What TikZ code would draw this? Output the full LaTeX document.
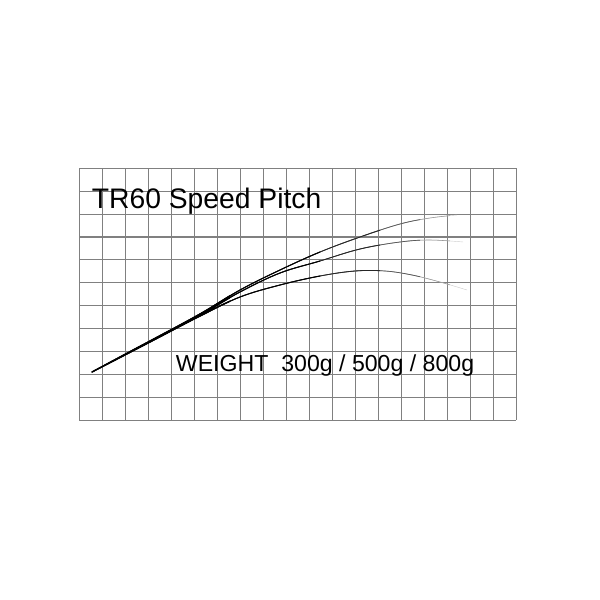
\documentclass[tikz,border=0pt]{standalone}
\usepackage{fontspec}
\setmainfont{Liberation Sans}

% the three rod curves (300g, 500g, 800g)
\newcommand{\rodcurves}{%
  plot[smooth, tension=0.6] coordinates {(92,372) (150,341) (200,314) (240,290) (280,270) (320,252) (360,237) (400,224) (430,218) (457,215)}
  plot[smooth, tension=0.6] coordinates {(92,372) (150,341) (200,315) (240,292) (280,273) (320,261) (360,249) (400,242) (430,240) (463,242)}
  plot[smooth, tension=0.6] coordinates {(92,372) (150,342) (200,316) (240,297) (280,285) (320,276) (355,271) (385,271) (412,275) (440,282) (467,290)}}

\begin{document}
\begin{tikzpicture}[
                    x=0.5mm, y=-0.5mm,
                    gridline/.style={draw=black!50, line width=1.5pt},
                    rod/.style={line cap=round, line join=round},
                    label/.style={anchor=base west, inner sep=0pt, text=black}
                ]
                    \useasboundingbox (0,0) rectangle (600,600);

                    % Grid
                    \foreach \i in {0,...,19}
                        \draw [gridline] (79.3+23*\i,168.3) -- ++(0,251.9);
                    \foreach \j in {0,...,11}
                        \draw [gridline] (79.3,168.3+22.9*\j) -- ++(437,0);

                    % Curves, fading towards the tip
                    \foreach \xend/\shade/\wd in {600/black!20/0.6pt, 450/black!40/0.8pt, 420/black!65/1.0pt, 380/black!85/1.2pt, 320/black/1.4pt, 230/black/2pt}
                    {
                        \begin{scope}
                            \clip (0,0) rectangle (\xend,600);
                            \draw [rod, draw=\shade, line width=\wd] \rodcurves;
                        \end{scope}
                    }

                    % Labels
                    \node [label, font=\fontsize{40.2}{44}\selectfont] (title) at (91.8,208.5) {TR60 Speed Pitch};
                    \node [label, font=\fontsize{32.9}{36}\selectfont] (weight) at (175.8,371) {WEIGHT\ \ 300g / 500g / 800g};
            \end{tikzpicture}
\end{document}
